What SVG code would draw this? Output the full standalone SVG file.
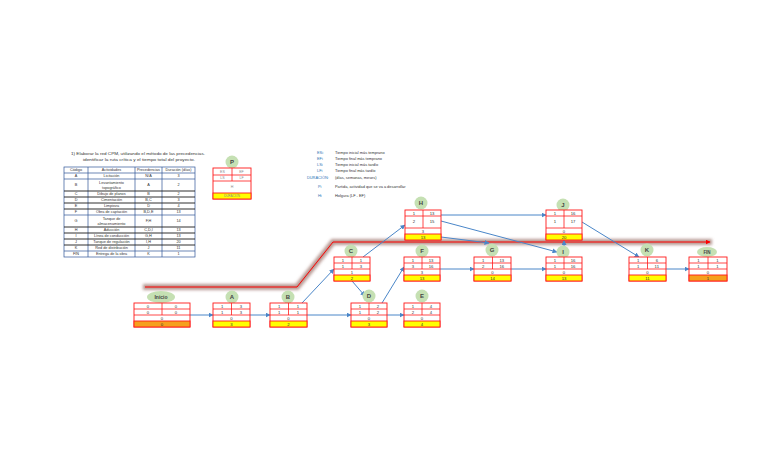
<svg xmlns="http://www.w3.org/2000/svg" width="768" height="466" viewBox="0 0 768 466">
<style>
text{font-family:"Liberation Sans",Arial,sans-serif;fill:#333}
.t{font-size:4.3px}
.n{font-size:4.2px;text-anchor:middle;fill:#333}
.lbl{font-size:6px;font-weight:bold;text-anchor:middle;fill:#444}
.box{fill:#fff;stroke:#ff1a1a;stroke-width:0.9}
.ln{stroke:#ff1a1a;stroke-width:0.8}
.yel{fill:#ffff00;stroke:#ff1a1a;stroke-width:0.9}
.org{fill:#f5a01e;stroke:#ff1a1a;stroke-width:0.9}
.cir{fill:#c5e0b3}
.con{fill:none;stroke:#4a86c8;stroke-width:1;marker-end:url(#ah)}
.tb{fill:none;stroke:#2f5597;stroke-width:0.7}
.tbk{stroke:#1a1a1a;stroke-width:0.9}
.tc{font-size:3.8px;text-anchor:middle;fill:#333}
.lg{font-size:3.9px;fill:#2e75b6}
.ld{font-size:3.9px;fill:#333}
.pb{font-size:3.6px;text-anchor:middle;fill:#8a8a8a}
</style>
<defs>
<marker id="ah" viewBox="0 0 10 10" refX="9" refY="5" markerWidth="5" markerHeight="5" orient="auto"><path d="M0,0 L10,5 L0,10 z" fill="#4a86c8"/></marker>
<marker id="rah" viewBox="0 0 10 10" refX="9" refY="5" markerWidth="5" markerHeight="5" orient="auto"><path d="M0,0 L10,5 L0,10 z" fill="#ff0000"/></marker>
<filter id="bl" x="-10%" y="-50%" width="120%" height="200%"><feGaussianBlur stdDeviation="1.6"/></filter>
</defs>
<rect width="768" height="466" fill="#fff"/>

<!-- title -->
<g id="title">
<text class="t" x="138" y="154.5" text-anchor="middle" textLength="134" lengthAdjust="spacingAndGlyphs">1) Elaborar la red CPM, utilizando el método de las precedencias.</text>
<text class="t" x="139" y="160.5" text-anchor="middle" textLength="112" lengthAdjust="spacingAndGlyphs">identificar la ruta crítica y el tiempo total del proyecto.</text>
</g>

<!-- table -->
<g id="table">
<rect x="64" y="167" width="131" height="90" class="tb"/>
<line x1="88" y1="167" x2="88" y2="257" class="tb"/>
<line x1="135" y1="167" x2="135" y2="257" class="tb"/>
<line x1="162" y1="167" x2="162" y2="257" class="tb"/>
<line x1="64" y1="173" x2="195" y2="173" class="tb"/>
<line x1="64" y1="179" x2="195" y2="179" class="tb"/>
<line x1="64" y1="191" x2="195" y2="191" class="tbk"/>
<line x1="64" y1="197" x2="195" y2="197" class="tbk"/>
<line x1="64" y1="203" x2="195" y2="203" class="tbk"/>
<line x1="64" y1="209" x2="195" y2="209" class="tbk"/>
<line x1="64" y1="215" x2="195" y2="215" class="tb"/>
<line x1="64" y1="227" x2="195" y2="227" class="tbk"/>
<line x1="64" y1="233" x2="195" y2="233" class="tbk"/>
<line x1="64" y1="239" x2="195" y2="239" class="tbk"/>
<line x1="64" y1="245" x2="195" y2="245" class="tbk"/>
<line x1="64" y1="251" x2="195" y2="251" class="tb"/>
<text class="tc" x="76" y="171.4">Código</text><text class="tc" x="111.5" y="171.4">Actividades</text><text class="tc" x="148.5" y="171.4">Precedencias</text><text class="tc" x="178.5" y="171.4">Duración (días)</text>
<text class="tc" x="76" y="177.4">A</text><text class="tc" x="111.5" y="177.4">Licitación</text><text class="tc" x="148.5" y="177.4">N/A</text><text class="tc" x="178.5" y="177.4">3</text>
<text class="tc" x="76" y="186.4">B</text><text class="tc" x="111.5" y="184">Levantamiento</text><text class="tc" x="111.5" y="189">topográfico</text><text class="tc" x="148.5" y="186.4">A</text><text class="tc" x="178.5" y="186.4">2</text>
<text class="tc" x="76" y="195.4">C</text><text class="tc" x="111.5" y="195.4">Dibujo de planos</text><text class="tc" x="148.5" y="195.4">B</text><text class="tc" x="178.5" y="195.4">2</text>
<text class="tc" x="76" y="201.4">D</text><text class="tc" x="111.5" y="201.4">Cimentación</text><text class="tc" x="148.5" y="201.4">B,C</text><text class="tc" x="178.5" y="201.4">3</text>
<text class="tc" x="76" y="207.4">E</text><text class="tc" x="111.5" y="207.4">Limpieza</text><text class="tc" x="148.5" y="207.4">D</text><text class="tc" x="178.5" y="207.4">4</text>
<text class="tc" x="76" y="213.4">F</text><text class="tc" x="111.5" y="213.4">Obra de captación</text><text class="tc" x="148.5" y="213.4">B,D,E</text><text class="tc" x="178.5" y="213.4">13</text>
<text class="tc" x="76" y="222.4">G</text><text class="tc" x="111.5" y="220">Tanque de</text><text class="tc" x="111.5" y="225">almacenamiento</text><text class="tc" x="148.5" y="222.4">F,H</text><text class="tc" x="178.5" y="222.4">14</text>
<text class="tc" x="76" y="231.4">H</text><text class="tc" x="111.5" y="231.4">Aducción</text><text class="tc" x="148.5" y="231.4">C,D,I</text><text class="tc" x="178.5" y="231.4">13</text>
<text class="tc" x="76" y="237.4">I</text><text class="tc" x="111.5" y="237.4">Línea de conducción</text><text class="tc" x="148.5" y="237.4">G,H</text><text class="tc" x="178.5" y="237.4">13</text>
<text class="tc" x="76" y="243.4">J</text><text class="tc" x="111.5" y="243.4">Tanque de regulación</text><text class="tc" x="148.5" y="243.4">I,H</text><text class="tc" x="178.5" y="243.4">20</text>
<text class="tc" x="76" y="249.4">K</text><text class="tc" x="111.5" y="249.4">Red de distribución</text><text class="tc" x="148.5" y="249.4">J</text><text class="tc" x="178.5" y="249.4">11</text>
<text class="tc" x="76" y="255.4">FIN</text><text class="tc" x="111.5" y="255.4">Entrega de la obra</text><text class="tc" x="148.5" y="255.4">K</text><text class="tc" x="178.5" y="255.4">1</text>
</g>

<!-- legend -->
<g id="legend">
<text class="lg" x="317" y="153.5">ESi</text><text class="ld" x="335" y="153.5">Tiempo inicial más temprano</text>
<text class="lg" x="317" y="159.8">EFi</text><text class="ld" x="335" y="159.8">Tiempo final más temprano</text>
<text class="lg" x="317" y="166">LSi</text><text class="ld" x="335" y="166">Tiempo inicial más tardío</text>
<text class="lg" x="317" y="172.2">LFi</text><text class="ld" x="335" y="172.2">Tiempo final más tardío</text>
<text class="lg" x="307" y="178.5">DURACIÓN:</text><text class="ld" x="335" y="178.5">(días, semanas, meses)</text>
<text class="lg" x="318" y="187.5">Pi</text><text class="ld" x="335" y="187.5">Partida, actividad que se va a desarrollar</text>
<text class="lg" x="318" y="197">Hi</text><text class="ld" x="335" y="197">Holgura (LF - EF)</text>
</g>

<g id="node-P">
<circle class="cir" cx="232" cy="162" r="6.5"/><text class="lbl" x="232" y="164">P</text>
<rect class="box" x="213" y="168" width="38" height="31"/>
<line class="ln" x1="213" y1="175" x2="251" y2="175"/><line class="ln" x1="213" y1="181" x2="251" y2="181"/>
<line class="ln" x1="232" y1="168" x2="232" y2="181"/>
<rect class="yel" x="213" y="193" width="38" height="6"/>
<text class="pb" x="222.5" y="173">ES</text><text class="pb" x="241.5" y="173">EF</text>
<text class="pb" x="222.5" y="179.4">LS</text><text class="pb" x="241.5" y="179.4">LF</text>
<text class="pb" x="232" y="188.3">H</text>
<text class="pb" x="232" y="197.4" style="font-size:3px">DURACIÓN</text>
</g>

<!-- critical path -->
<g id="critical-path">
<polyline points="143,287 297,287 333,242 712,242" fill="none" stroke="#a07870" stroke-width="6" stroke-opacity="0.75" filter="url(#bl)"/>
<polyline points="145,287 297,287 333,242 710,242" fill="none" stroke="#ff0000" stroke-width="1" marker-end="url(#rah)"/>
</g>

<!-- connectors -->
<g id="connectors">
<line class="con" x1="190" y1="315" x2="213" y2="315"/>
<line class="con" x1="250" y1="315" x2="270" y2="315"/>
<line class="con" x1="302" y1="303" x2="334" y2="269"/>
<line class="con" x1="307" y1="315" x2="351" y2="315"/>
<line class="con" x1="352" y1="281" x2="365" y2="296"/>
<line class="con" x1="363" y1="257" x2="405" y2="225"/>
<line class="con" x1="387" y1="315" x2="404" y2="315"/>
<line class="con" x1="382" y1="303" x2="404" y2="267"/>
<line class="con" x1="440" y1="269" x2="474" y2="269"/>
<line class="con" x1="511" y1="269" x2="546" y2="269"/>
<line class="con" x1="441" y1="215" x2="546" y2="215"/>
<line class="con" x1="441" y1="221" x2="557" y2="252"/>
<line class="con" x1="441" y1="237" x2="489" y2="243"/>
<line class="con" x1="564" y1="247" x2="564" y2="240.5"/>
<line class="con" x1="582" y1="222" x2="639" y2="257"/>
<line class="con" x1="666" y1="269" x2="689" y2="269"/>
</g>

<g id="node-Inicio">
<ellipse class="cir" cx="161" cy="297" rx="14" ry="6"/><text class="lbl" x="161" y="299" style="font-size:5px">Inicio</text>
<rect class="box" x="134" y="303" width="56" height="24"/>
<line class="ln" x1="134" y1="309" x2="190" y2="309"/><line class="ln" x1="134" y1="315" x2="190" y2="315"/>
<line class="ln" x1="162" y1="303" x2="162" y2="315"/>
<rect class="org" x="134" y="321" width="56" height="6"/>
<text class="n" x="148" y="307.6">0</text><text class="n" x="176" y="307.6">0</text>
<text class="n" x="148" y="313.6">0</text><text class="n" x="176" y="313.6">0</text>
<text class="n" x="162" y="319.6">0</text><text class="n" x="162" y="325.6">0</text>
</g>

<g id="node-A">
<circle class="cir" cx="232" cy="297" r="6.5"/><text class="lbl" x="232" y="299">A</text>
<rect class="box" x="213" y="303" width="37" height="24"/>
<line class="ln" x1="213" y1="309" x2="250" y2="309"/><line class="ln" x1="213" y1="315" x2="250" y2="315"/>
<line class="ln" x1="231.5" y1="303" x2="231.5" y2="315"/>
<rect class="yel" x="213" y="321" width="37" height="6"/>
<text class="n" x="222.2" y="307.6">1</text><text class="n" x="240.8" y="307.6">3</text>
<text class="n" x="222.2" y="313.6">1</text><text class="n" x="240.8" y="313.6">3</text>
<text class="n" x="231.5" y="319.6">0</text><text class="n" x="231.5" y="325.6">3</text>
</g>

<g id="node-B">
<circle class="cir" cx="288" cy="297" r="6.5"/><text class="lbl" x="288" y="299">B</text>
<rect class="box" x="270" y="303" width="37" height="24"/>
<line class="ln" x1="270" y1="309" x2="307" y2="309"/><line class="ln" x1="270" y1="315" x2="307" y2="315"/>
<line class="ln" x1="288.5" y1="303" x2="288.5" y2="315"/>
<rect class="yel" x="270" y="321" width="37" height="6"/>
<text class="n" x="279.2" y="307.6">1</text><text class="n" x="297.8" y="307.6">1</text>
<text class="n" x="279.2" y="313.6">1</text><text class="n" x="297.8" y="313.6">1</text>
<text class="n" x="288.5" y="319.6">0</text><text class="n" x="288.5" y="325.6">2</text>
</g>

<g id="node-C">
<circle class="cir" cx="351" cy="251" r="6.5"/><text class="lbl" x="351" y="253">C</text>
<rect class="box" x="334" y="257" width="36" height="24"/>
<line class="ln" x1="334" y1="263" x2="370" y2="263"/><line class="ln" x1="334" y1="269" x2="370" y2="269"/>
<line class="ln" x1="352" y1="257" x2="352" y2="269"/>
<rect class="yel" x="334" y="275" width="36" height="6"/>
<text class="n" x="343" y="261.6">1</text><text class="n" x="361" y="261.6">1</text>
<text class="n" x="343" y="267.6">1</text><text class="n" x="361" y="267.6">3</text>
<text class="n" x="352" y="273.6">1</text><text class="n" x="352" y="279.6">2</text>
</g>

<g id="node-D">
<circle class="cir" cx="369" cy="296" r="6.5"/><text class="lbl" x="369" y="298">D</text>
<rect class="box" x="351" y="303" width="36" height="24"/>
<line class="ln" x1="351" y1="309" x2="387" y2="309"/><line class="ln" x1="351" y1="315" x2="387" y2="315"/>
<line class="ln" x1="369" y1="303" x2="369" y2="315"/>
<rect class="yel" x="351" y="321" width="36" height="6"/>
<text class="n" x="360" y="307.6">1</text><text class="n" x="378" y="307.6">2</text>
<text class="n" x="360" y="313.6">1</text><text class="n" x="378" y="313.6">2</text>
<text class="n" x="369" y="319.6">0</text><text class="n" x="369" y="325.6">3</text>
</g>

<g id="node-E">
<circle class="cir" cx="422" cy="296" r="6.5"/><text class="lbl" x="422" y="298">E</text>
<rect class="box" x="404" y="303" width="36" height="24"/>
<line class="ln" x1="404" y1="309" x2="440" y2="309"/><line class="ln" x1="404" y1="315" x2="440" y2="315"/>
<line class="ln" x1="422" y1="303" x2="422" y2="315"/>
<rect class="yel" x="404" y="321" width="36" height="6"/>
<text class="n" x="413" y="307.6">1</text><text class="n" x="431" y="307.6">4</text>
<text class="n" x="413" y="313.6">2</text><text class="n" x="431" y="313.6">4</text>
<text class="n" x="422" y="319.6">0</text><text class="n" x="422" y="325.6">4</text>
</g>

<g id="node-F">
<circle class="cir" cx="422" cy="251" r="6.5"/><text class="lbl" x="422" y="253">F</text>
<rect class="box" x="404" y="257" width="36" height="24"/>
<line class="ln" x1="404" y1="263" x2="440" y2="263"/><line class="ln" x1="404" y1="269" x2="440" y2="269"/>
<line class="ln" x1="422" y1="257" x2="422" y2="269"/>
<rect class="yel" x="404" y="275" width="36" height="6"/>
<text class="n" x="413" y="261.6">1</text><text class="n" x="431" y="261.6">13</text>
<text class="n" x="413" y="267.6">3</text><text class="n" x="431" y="267.6">16</text>
<text class="n" x="422" y="273.6">3</text><text class="n" x="422" y="279.6">13</text>
</g>

<g id="node-G">
<circle class="cir" cx="492" cy="250" r="6.5"/><text class="lbl" x="492" y="252">G</text>
<rect class="box" x="474" y="257" width="37" height="24"/>
<line class="ln" x1="474" y1="263" x2="511" y2="263"/><line class="ln" x1="474" y1="269" x2="511" y2="269"/>
<line class="ln" x1="492.5" y1="257" x2="492.5" y2="269"/>
<rect class="yel" x="474" y="275" width="37" height="6"/>
<text class="n" x="483.2" y="261.6">1</text><text class="n" x="501.8" y="261.6">13</text>
<text class="n" x="483.2" y="267.6">2</text><text class="n" x="501.8" y="267.6">16</text>
<text class="n" x="492.5" y="273.6">0</text><text class="n" x="492.5" y="279.6">14</text>
</g>

<g id="node-H">
<circle class="cir" cx="421" cy="203" r="6.5"/><text class="lbl" x="421" y="205">H</text>
<rect class="box" x="405" y="210" width="36" height="30"/>
<line class="ln" x1="405" y1="216" x2="441" y2="216"/><line class="ln" x1="405" y1="228" x2="441" y2="228"/>
<line class="ln" x1="423" y1="210" x2="423" y2="228"/>
<rect class="yel" x="405" y="234" width="36" height="6"/>
<text class="n" x="414" y="214.6">1</text><text class="n" x="432" y="214.6">13</text>
<text class="n" x="414" y="223.4">2</text><text class="n" x="432" y="223.4">15</text>
<text class="n" x="423" y="232.6">3</text><text class="n" x="423" y="238.6">13</text>
</g>

<g id="node-I">
<circle class="cir" cx="563" cy="252" r="6.5"/><text class="lbl" x="563" y="254">I</text>
<rect class="box" x="546" y="257" width="36" height="24"/>
<line class="ln" x1="546" y1="263" x2="582" y2="263"/><line class="ln" x1="546" y1="269" x2="582" y2="269"/>
<line class="ln" x1="564" y1="257" x2="564" y2="269"/>
<rect class="yel" x="546" y="275" width="36" height="6"/>
<text class="n" x="555" y="261.6">1</text><text class="n" x="573" y="261.6">16</text>
<text class="n" x="555" y="267.6">1</text><text class="n" x="573" y="267.6">16</text>
<text class="n" x="564" y="273.6">0</text><text class="n" x="564" y="279.6">13</text>
</g>

<g id="node-J">
<circle class="cir" cx="563" cy="205" r="6.5"/><text class="lbl" x="563" y="207">J</text>
<rect class="box" x="546" y="210" width="36" height="30"/>
<line class="ln" x1="546" y1="216" x2="582" y2="216"/><line class="ln" x1="546" y1="228" x2="582" y2="228"/>
<line class="ln" x1="564" y1="210" x2="564" y2="228"/>
<rect class="yel" x="546" y="234" width="36" height="6"/>
<text class="n" x="555" y="214.6">1</text><text class="n" x="573" y="214.6">16</text>
<text class="n" x="555" y="223.4">1</text><text class="n" x="573" y="223.4">17</text>
<text class="n" x="564" y="232.6">0</text><text class="n" x="564" y="238.6">20</text>
</g>

<g id="node-K">
<circle class="cir" cx="647" cy="250" r="6.5"/><text class="lbl" x="647" y="252">K</text>
<rect class="box" x="629" y="257" width="37" height="24"/>
<line class="ln" x1="629" y1="263" x2="666" y2="263"/><line class="ln" x1="629" y1="269" x2="666" y2="269"/>
<line class="ln" x1="647.5" y1="257" x2="647.5" y2="269"/>
<rect class="yel" x="629" y="275" width="37" height="6"/>
<text class="n" x="638.2" y="261.6">1</text><text class="n" x="656.8" y="261.6">6</text>
<text class="n" x="638.2" y="267.6">1</text><text class="n" x="656.8" y="267.6">11</text>
<text class="n" x="647.5" y="273.6">0</text><text class="n" x="647.5" y="279.6">11</text>
</g>

<g id="node-FIN">
<ellipse class="cir" cx="707" cy="252" rx="10" ry="5"/><text class="lbl" x="707" y="254" style="font-size:4.5px">FIN</text>
<rect class="box" x="689" y="257" width="38" height="24"/>
<line class="ln" x1="689" y1="263" x2="727" y2="263"/><line class="ln" x1="689" y1="269" x2="727" y2="269"/>
<line class="ln" x1="708" y1="257" x2="708" y2="269"/>
<rect class="org" x="689" y="275" width="38" height="6"/>
<text class="n" x="698.5" y="261.6">1</text><text class="n" x="717.5" y="261.6">1</text>
<text class="n" x="698.5" y="267.6">1</text><text class="n" x="717.5" y="267.6">1</text>
<text class="n" x="708" y="273.6">0</text><text class="n" x="708" y="279.6">1</text>
</g>
</svg>
